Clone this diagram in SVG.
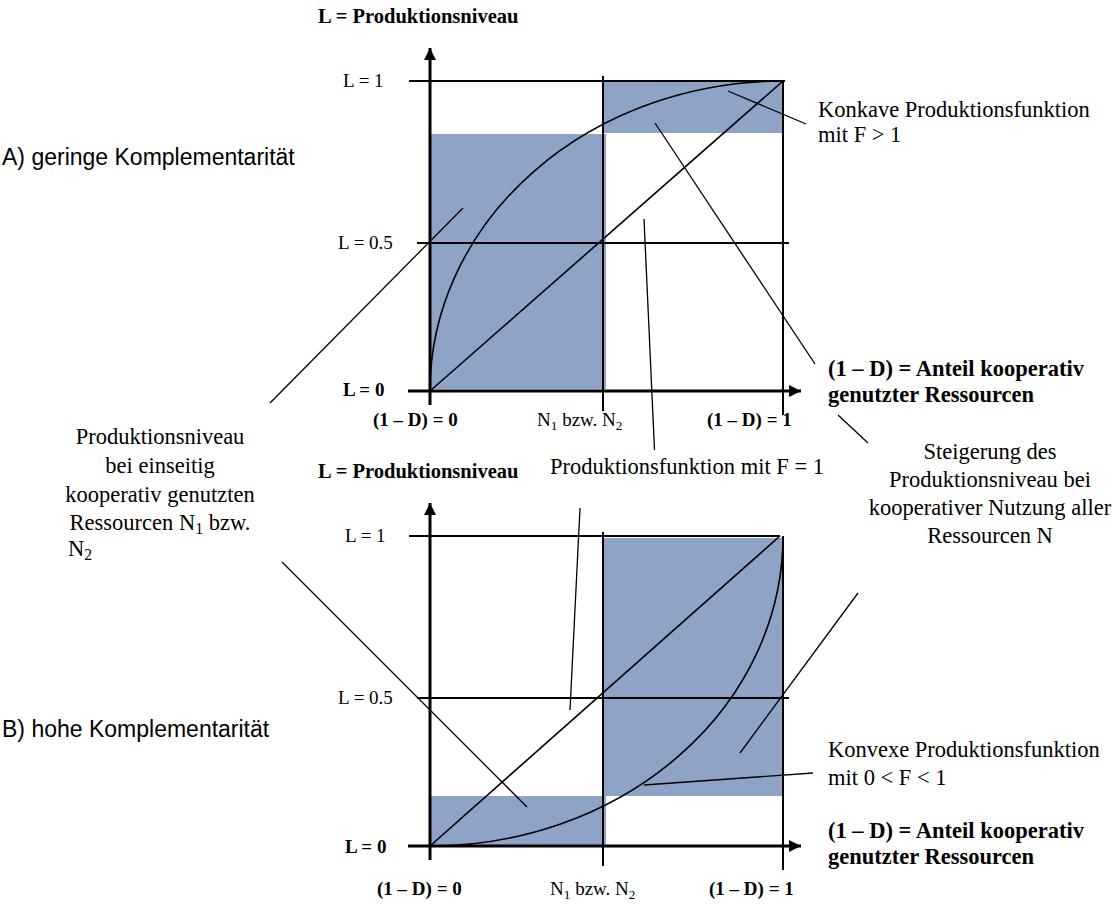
<svg xmlns="http://www.w3.org/2000/svg" width="1112" height="904" viewBox="0 0 1112 904">
  <style>
    .area { fill: #8FA3C6; stroke: none; }
    .axis { stroke: #000; stroke-width: 3; fill: none; }
    .grid { stroke: #000; stroke-width: 2; fill: none; }
    .curve { stroke: #000; stroke-width: 1.6; fill: none; }
    .leader { stroke: #000; stroke-width: 1.3; fill: none; }
    .tick { font-family: "Liberation Serif", "Times New Roman", serif; font-size: 19px; fill: #000; }
    .tickb { font-family: "Liberation Serif", "Times New Roman", serif; font-size: 19px; font-weight: bold; fill: #000; }
    .head { font-family: "Liberation Serif", "Times New Roman", serif; font-size: 20.5px; font-weight: bold; fill: #000; }
    .lab { font-family: "Liberation Serif", "Times New Roman", serif; font-size: 22.5px; fill: #000; }
    .labb { font-family: "Liberation Serif", "Times New Roman", serif; font-size: 22.5px; font-weight: bold; fill: #000; }
    .title { font-family: "Liberation Sans", Arial, sans-serif; font-size: 23px; fill: #000; }
    .sub { font-size: 70%; }
  </style>
  <defs>
    <marker id="arrow" viewBox="0 0 12 12" refX="12" refY="6" markerWidth="12" markerHeight="12" markerUnits="userSpaceOnUse" orient="auto">
      <path d="M0,0 L12,6 L0,12 Z" fill="#000"/>
    </marker>
  </defs>

  <rect width="1112" height="904" fill="#fff"/>

  <!-- Section titles -->
  <text class="title" x="2" y="165">A) geringe Komplementarität</text>
  <text class="title" x="2" y="737">B) hohe Komplementarität</text>

  <!-- Chart A: concave production function -->
  <g id="chart-a">
    <rect class="area" x="430" y="134" width="176" height="255"/>
    <rect class="area" x="603" y="81" width="180" height="52"/>
    <line class="grid" x1="409" y1="81" x2="785" y2="81"/>
    <line class="grid" x1="417" y1="243" x2="789" y2="243" stroke-width="1.6"/>
    <line class="grid" x1="603" y1="76" x2="603" y2="411" stroke-width="1.6"/>
    <line class="grid" x1="783" y1="81" x2="783" y2="415"/>
    <line class="axis" x1="430" y1="405" x2="430" y2="48" marker-end="url(#arrow)"/>
    <line class="axis" x1="408" y1="391" x2="801" y2="391" marker-end="url(#arrow)"/>
    <line class="curve" x1="430" y1="391" x2="783" y2="81"/>
    <path class="curve" d="M430,391 A353,310 0 0 1 783,81"/>
    <text class="head" x="318" y="23">L = Produktionsniveau</text>
    <text class="tick" x="343" y="87">L = 1</text>
    <text class="tick" x="338" y="249">L = 0.5</text>
    <text class="tickb" x="343" y="396">L = 0</text>
    <text class="tickb" x="373" y="426">(1 – D) = 0</text>
    <text class="tick" x="537" y="426">N<tspan class="sub" dy="4">1</tspan><tspan dy="-4"> bzw. N</tspan><tspan class="sub" dy="4">2</tspan></text>
    <text class="tickb" x="707" y="426">(1 – D) = 1</text>
  </g>

  <!-- Chart B: convex production function -->
  <g id="chart-b">
    <rect class="area" x="603" y="538" width="179" height="258"/>
    <rect class="area" x="430" y="796" width="176" height="50"/>
    <line class="grid" x1="409" y1="536" x2="780" y2="536"/>
    <line class="grid" x1="417" y1="698" x2="789" y2="698" stroke-width="1.6"/>
    <line class="grid" x1="603" y1="532" x2="603" y2="866" stroke-width="1.6"/>
    <line class="grid" x1="783" y1="536" x2="783" y2="870"/>
    <line class="axis" x1="430" y1="860" x2="430" y2="503" marker-end="url(#arrow)"/>
    <line class="axis" x1="408" y1="846" x2="801" y2="846" marker-end="url(#arrow)"/>
    <line class="curve" x1="430" y1="846" x2="780" y2="536"/>
    <path class="curve" d="M430,846 A353,310 0 0 0 783,536"/>
    <text class="head" x="318" y="478">L = Produktionsniveau</text>
    <text class="tick" x="345" y="542">L = 1</text>
    <text class="tick" x="338" y="704">L = 0.5</text>
    <text class="tickb" x="345" y="853">L = 0</text>
    <text class="tickb" x="377" y="895">(1 – D) = 0</text>
    <text class="tick" x="550" y="895">N<tspan class="sub" dy="4">1</tspan><tspan dy="-4"> bzw. N</tspan><tspan class="sub" dy="4">2</tspan></text>
    <text class="tickb" x="709" y="895">(1 – D) = 1</text>
  </g>

  <!-- Annotation labels -->
  <g id="label-konkav">
    <text class="lab" x="818" y="117">Konkave Produktionsfunktion</text>
    <text class="lab" x="818" y="142">mit F &gt; 1</text>
  </g>
  <g id="label-anteil-a">
    <text class="labb" x="828" y="376">(1 – D) = Anteil kooperativ</text>
    <text class="labb" x="828" y="402">genutzter Ressourcen</text>
  </g>
  <g id="label-einseitig" text-anchor="middle">
    <text class="lab" x="160" y="444">Produktionsniveau</text>
    <text class="lab" x="160" y="473">bei einseitig</text>
    <text class="lab" x="160" y="502">kooperativ genutzten</text>
    <text class="lab" x="160" y="530">Ressourcen N<tspan class="sub" dy="4">1</tspan><tspan dy="-4"> bzw.</tspan></text>
    <text class="lab" x="68" y="556" text-anchor="start">N<tspan class="sub" dy="4">2</tspan></text>
  </g>
  <g id="label-linear">
    <text class="lab" x="550" y="474" fill="#3a3a3a" font-size="25">Produktionsfunktion mit F = 1</text>
  </g>
  <g id="label-steigerung" text-anchor="middle">
    <text class="lab" x="990" y="459">Steigerung des</text>
    <text class="lab" x="990" y="487">Produktionsniveau bei</text>
    <text class="lab" x="990" y="515">kooperativer Nutzung aller</text>
    <text class="lab" x="990" y="543">Ressourcen N</text>
  </g>
  <g id="label-konvex">
    <text class="lab" x="828" y="757">Konvexe Produktionsfunktion</text>
    <text class="lab" x="828" y="785">mit 0 &lt; F &lt; 1</text>
  </g>
  <g id="label-anteil-b">
    <text class="labb" x="828" y="838">(1 – D) = Anteil kooperativ</text>
    <text class="labb" x="828" y="864">genutzter Ressourcen</text>
  </g>

  <!-- Leader lines -->
  <g id="connectors">
    <line class="leader" x1="728" y1="91" x2="806" y2="124"/>
    <line class="leader" x1="655" y1="123" x2="815" y2="364"/>
    <line class="leader" x1="463" y1="208" x2="270" y2="403"/>
    <line class="leader" x1="644" y1="219" x2="654.5" y2="450"/>
    <line class="leader" x1="838" y1="415" x2="868" y2="443"/>
    <line class="leader" x1="580" y1="508" x2="570" y2="710"/>
    <line class="leader" x1="282" y1="562" x2="527" y2="807"/>
    <line class="leader" x1="740" y1="753" x2="858" y2="593"/>
    <line class="leader" x1="644" y1="785" x2="813" y2="773"/>
  </g>
</svg>
